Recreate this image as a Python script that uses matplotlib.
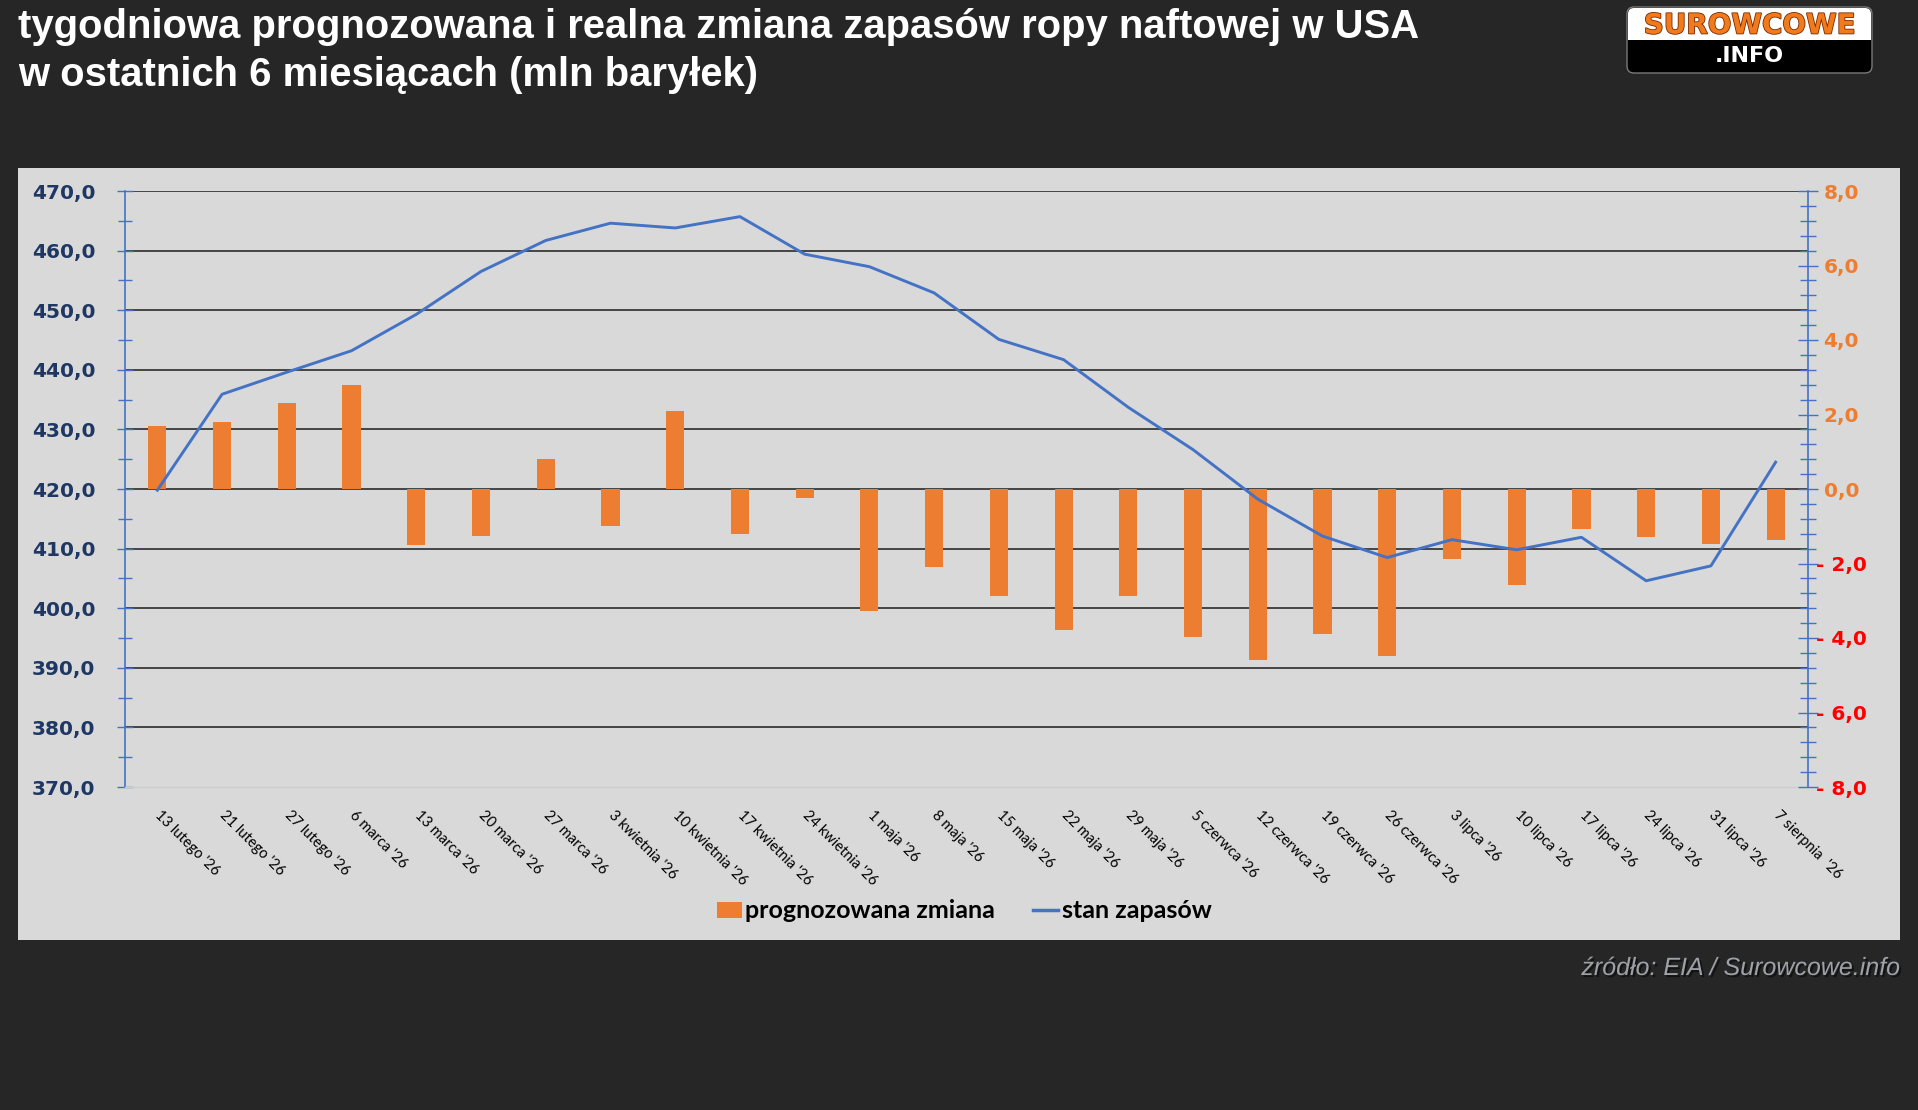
import matplotlib
matplotlib.use('Agg')

import numpy as np
import matplotlib.pyplot as plt
from matplotlib.patches import Rectangle, FancyBboxPatch, Patch
from matplotlib.lines import Line2D
from matplotlib.font_manager import FontProperties
from matplotlib.ticker import FixedLocator, MultipleLocator
import matplotlib.patheffects as pe
import matplotlib.transforms as mtransforms

# --- data ---
dates = ["13 lutego '26", "21 lutego '26", "27 lutego '26", "6 marca '26",
         "13 marca '26", "20 marca '26", "27 marca '26", "3 kwietnia '26",
         "10 kwietnia '26", "17 kwietnia '26", "24 kwietnia '26", "1 maja '26",
         "8 maja '26", "15 maja '26", "22 maja '26", "29 maja '26",
         "5 czerwca '26", "12 czerwca '26", "19 czerwca '26", "26 czerwca '26",
         "3 lipca '26", "10 lipca '26", "17 lipca '26", "24 lipca '26",
         "31 lipca '26", "7 sierpnia  '26"]
forecast_change = [1.7, 1.8, 2.3, 2.8, -1.5, -1.25, 0.8, -1.0, 2.1, -1.2,
                   -0.23, -3.27, -2.1, -2.87, -3.78, -2.87, -3.97, -4.59,
                   -3.89, -4.48, -1.88, -2.58, -1.08, -1.29, -1.48, -1.37]
stock_level = [419.8, 435.9, 439.6, 443.2, 449.3, 456.5, 461.7, 464.6, 463.8,
               465.7, 459.4, 457.3, 452.9, 445.1, 441.7, 433.7, 426.6, 418.3,
               412.1, 408.5, 411.5, 409.8, 411.9, 404.6, 407.1, 424.5]
left_ticks = [370, 380, 390, 400, 410, 420, 430, 440, 450, 460, 470]
right_ticks = [-8, -6, -4, -2, 0, 2, 4, 6, 8]
right_labels = ['- 8,0', '- 6,0', '- 4,0', '- 2,0', '0,0', '2,0', '4,0', '6,0', '8,0']

title1 = 'tygodniowa prognozowana i realna zmiana zapasów ropy naftowej w USA'
title2 = 'w ostatnich 6 miesiącach (mln baryłek)'
source = 'źródło: EIA / Surowcowe.info'

BG = '#262626'
PANEL = '#d9d9d9'
ORANGE = '#ed7d31'
BLUE = '#4472c4'
NAVY = '#1f3763'

W, H = 1918, 1110
fig = plt.figure(figsize=(W / 100, H / 100), dpi=100, facecolor=BG)

def fx(px):
    return px / W

def fy(py):
    return 1 - py / H

# light panel behind the chart
fig.patches.append(Rectangle((fx(18), fy(940)), fx(1900) - fx(18), fy(168) - fy(940),
                             transform=fig.transFigure, facecolor=PANEL, edgecolor='none', zorder=-5))

# titles
fig.text(fx(18), fy(38), title1, color='white', fontsize=28.8, fontweight='bold',
         family='Liberation Sans', va='baseline', ha='left')
fig.text(fx(18), fy(86), title2, color='white', fontsize=28.8, fontweight='bold',
         family='Liberation Sans', va='baseline', ha='left')

# main axes
ax = fig.add_axes([fx(125), fy(787), fx(1808) - fx(125), fy(191) - fy(787)])
ax.set_facecolor('none')
x = np.arange(len(dates))
ax.set_xlim(-0.5, len(dates) - 0.5)
ax.set_ylim(370, 470)

ax.hlines(left_ticks[1:], -0.5, len(dates) - 0.5, colors='#1c1c1c', lw=1.1, zorder=0)

ax.yaxis.set_major_locator(FixedLocator(left_ticks))
ax.yaxis.set_minor_locator(MultipleLocator(5))
ax.set_yticklabels([f'{v:.1f}'.replace('.', ',') for v in left_ticks])
ax.tick_params(axis='y', which='major', direction='inout', length=11, width=1.0,
               color=BLUE, pad=16, labelsize=14.5, labelcolor=NAVY)
ax.tick_params(axis='y', which='minor', direction='inout', length=10, width=1.0, color=BLUE)
for lab in ax.get_yticklabels():
    lab.set_fontweight('bold')
    lab.set_family('DejaVu Sans')

ax.set_xticks(x)
ax.set_xticklabels(dates, rotation=-45, ha='left', va='top', rotation_mode='anchor',
                   fontsize=10.5, family='Lato', color='black')
ax.tick_params(axis='x', length=0, pad=15)
shift = mtransforms.ScaledTranslation(0.05, 0, fig.dpi_scale_trans)
for lab in ax.get_xticklabels():
    lab.set_transform(lab.get_transform() + shift)

for s in ['top', 'right']:
    ax.spines[s].set_visible(False)
ax.spines['left'].set_color(BLUE)
ax.spines['left'].set_linewidth(1.2)
ax.spines['bottom'].set_color('#cdcdcd')
ax.spines['bottom'].set_linewidth(1.0)

# secondary axis with bars
ax2 = ax.twinx()
ax2.set_ylim(-8, 8)
ax2.bar(x, forecast_change, width=0.28, color=ORANGE, zorder=2)
# stock line drawn on top of bars, in the left axis scale
ax2.plot(x, stock_level, color=BLUE, lw=2.1, transform=ax.transData, zorder=3,
         solid_joinstyle='round')

ax2.yaxis.set_major_locator(FixedLocator(right_ticks))
ax2.yaxis.set_minor_locator(MultipleLocator(0.4))
ax2.set_yticklabels(right_labels)
ax2.tick_params(axis='y', which='major', direction='inout', length=14, width=1.0,
                color=BLUE, pad=17, labelsize=14.5)
ax2.tick_params(axis='y', which='minor', direction='inout', length=11, width=1.0, color=BLUE)
for lab, v in zip(ax2.get_yticklabels(), right_ticks):
    lab.set_fontweight('bold')
    lab.set_family('DejaVu Sans')
    lab.set_horizontalalignment('center')
    lab.set_color('#ff0000' if v < 0 else ORANGE)
for s in ['top', 'left', 'bottom']:
    ax2.spines[s].set_visible(False)
ax2.spines['right'].set_color(BLUE)
ax2.spines['right'].set_linewidth(1.2)

# legend
handles = [Patch(facecolor=ORANGE, edgecolor='none'), Line2D([], [], color=BLUE, lw=2.5)]
fig.legend(handles, ['prognozowana zmiana', 'stan zapasów'], loc='center',
           bbox_to_anchor=(fx(964), fy(911)), ncol=2, frameon=False,
           prop=FontProperties(family='Lato', weight='bold', size=18),
           handlelength=1.0, handleheight=0.6, handletextpad=0.15, columnspacing=1.5,
           labelcolor='black')

# source
fig.text(fx(1900), fy(975), source, color='#9ea1a8', fontsize=18, style='italic',
         family='Liberation Sans', ha='right', va='baseline',
         path_effects=[pe.withSimplePatchShadow(offset=(1.5, -1.5), shadow_rgbFace='black', alpha=0.5)])

# logo
lax = fig.add_axes([fx(1626), fy(74), fx(1873) - fx(1626), fy(6) - fy(74)])
lax.set_xlim(0, 247)
lax.set_ylim(0, 68)
lax.axis('off')
lax.add_patch(FancyBboxPatch((1, 1), 245, 66, boxstyle='round,pad=0,rounding_size=7',
                             facecolor='black', edgecolor='#7a7a7a', lw=1.0))
lax.add_patch(FancyBboxPatch((2, 34), 243, 32, boxstyle='round,pad=0,rounding_size=6',
                             facecolor='white', edgecolor='none'))
lax.add_patch(Rectangle((2, 34), 243, 10, facecolor='white', edgecolor='none'))
lax.text(123.5, 48.5, 'SUROWCOWE', ha='center', va='center', fontsize=20, fontweight='bold',
         family='DejaVu Sans', color='#f07a1c',
         path_effects=[pe.withStroke(linewidth=1.2, foreground='#7a2a00')])
lax.text(123, 17.5, '.INFO', ha='center', va='center', fontsize=16, fontweight='bold',
         family='DejaVu Sans', color='white')

fig.savefig('out.png', dpi=100, facecolor=BG)
